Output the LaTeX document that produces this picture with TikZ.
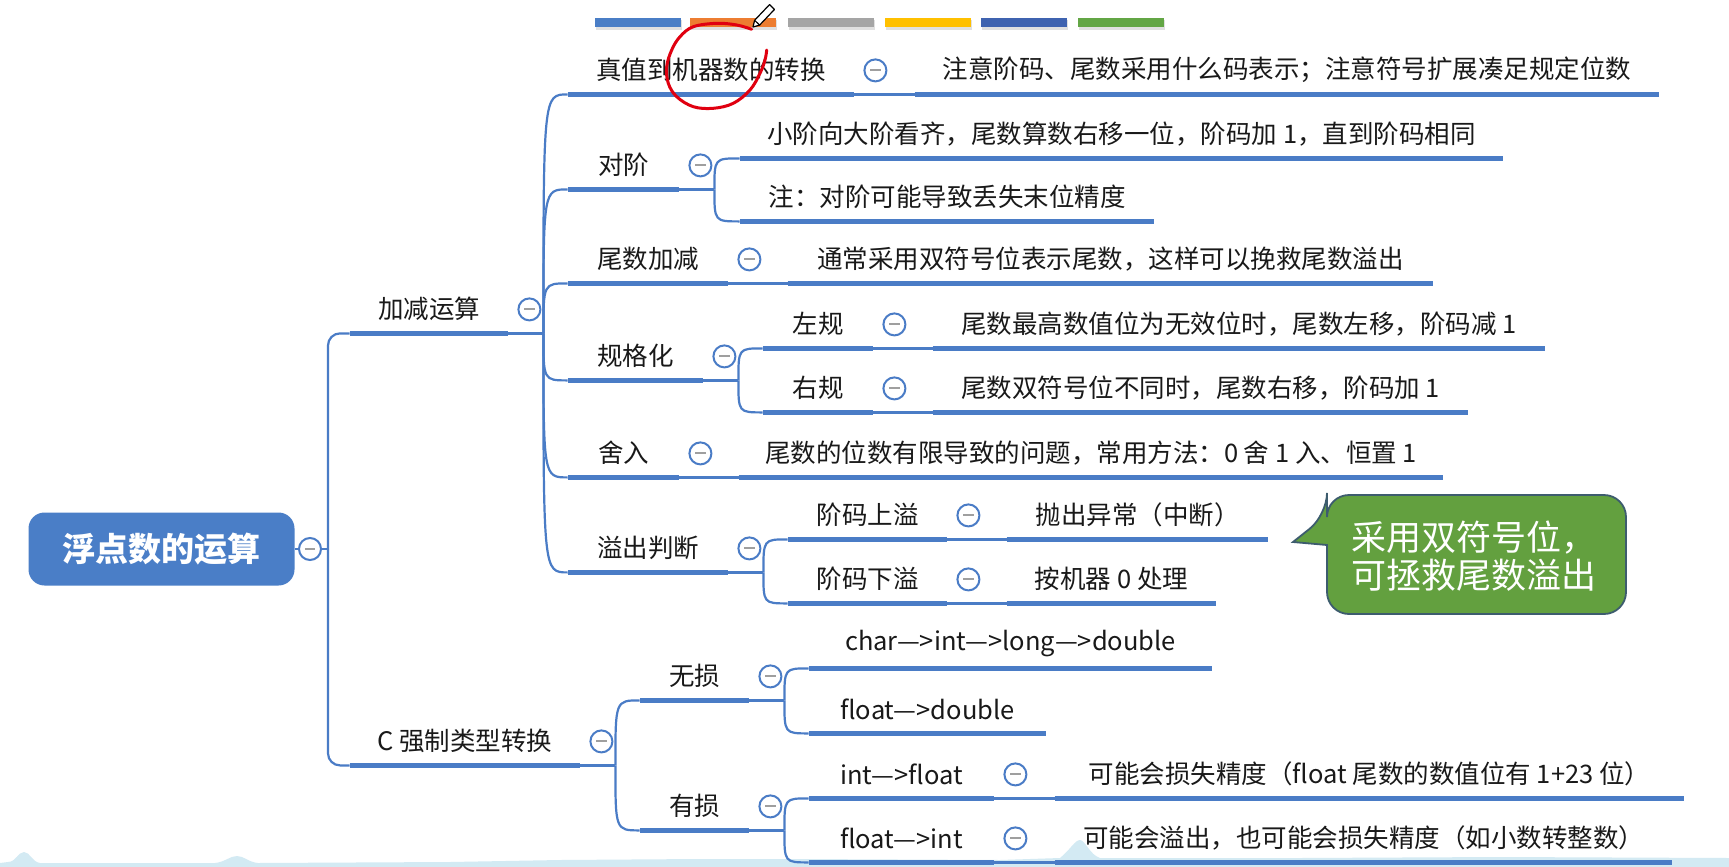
\documentclass[tikz,border=0pt]{standalone}
\usepackage{fontspec}
\setmainfont{Noto Sans CJK SC}
\usetikzlibrary{calc}
\definecolor{lineblue}{HTML}{4A7CC6}
\definecolor{rootblue}{HTML}{4A7EC7}
\definecolor{barblue}{HTML}{4A7EC6}
\definecolor{barorange}{HTML}{ED7D31}
\definecolor{bargray}{HTML}{A5A5A5}
\definecolor{baryellow}{HTML}{FFC000}
\definecolor{bardark}{HTML}{3F63B0}
\definecolor{bargreen}{HTML}{63A645}
\definecolor{notegreen}{HTML}{63A03F}
\definecolor{noteborder}{HTML}{3D5C6E}
\definecolor{penred}{HTML}{E00010}
\definecolor{wave}{HTML}{D3EAF3}
\newcommand\topic[5]{%
  \pgfmathsetmacro\tw{(#3-#2)*0.5}%
  \node[topic, minimum width=\tw pt] (#1) at ({(#2+#3)/2},{#4-24}) {#5};%
  \draw[uline] (#1.south west) -- (#1.south east);}
\newcommand\collapse[1]{\node[col] (#1-c) at ($(#1.south east)+(21,-24)$) {};}
\newcommand\single[2]{\draw[link] (#1.south east) -- (#2.south west);}
\newcommand\fork[1]{\draw[link] (#1.south east) -- ++(35,0) coordinate (#1-j);}
\newcommand\branch[2]{\draw[link] (#1-j) .. controls (#1-j |- #2.south west) .. (#2.south west);}
\begin{document}
\begin{tikzpicture}[x=0.5pt,y=-0.5pt,
  topic/.style={inner sep=0pt, minimum height=24pt, font=\fontsize{12.75pt}{15pt}\selectfont, text=black!90},
  uline/.style={draw=lineblue, line width=2.6pt},
  link/.style={draw=lineblue, line width=1.1pt},
  col/.style={circle, draw=lineblue, line width=1pt, fill=white, minimum size=11pt, inner sep=0pt,
    path picture={\draw[gray!75, line width=1pt] ([xshift=-2.6pt]path picture bounding box.center) -- ([xshift=2.6pt]path picture bounding box.center);}},
  rootbox/.style={fill=rootblue, rounded corners=8pt, minimum width=133pt, minimum height=36.5pt, inner sep=0pt,
    text=white, font=\fontsize{16.5pt}{20pt}\selectfont\bfseries},
  bar/.style={draw=none},
]
\useasboundingbox (0,0) rectangle (1729,867);
\fill[white] (0,0) rectangle (1729,867);
% bottom watercolor band
\fill[wave] (0,867) -- (0,863) -- (8,862) .. controls (16,862) and (18,852) .. (24,852) .. controls (30,852) and (32,862) .. (40,863) -- (215,863) .. controls (225,862) and (230,856) .. (237,856) .. controls (244,856) and (248,862) .. (258,863) -- (450,862) -- (560,860) -- (700,859) -- (800,859) -- (1000,860) -- (1060,858) .. controls (1070,850) and (1075,840) .. (1080,840) .. controls (1085,840) and (1090,855) .. (1100,858) -- (1300,858) -- (1500,857) -- (1729,858) -- (1729,867) -- cycle;
% top colour bars
\foreach \a/\b/\c in {595/681/barblue,690/776/barorange,788/874/bargray,885/971/baryellow,981/1067/bardark,1078/1164/bargreen}{
  \fill[black!12] (\a+1,20) rectangle (\b+1,30);
  \fill[\c] (\a,18) rectangle (\b,27);
}
% root
\node[rootbox] (root) at (161.5,549) {浮点数的运算};
\coordinate (rj) at (328,549);
% level 1
\topic{A}{350}{508}{333}{加减运算}
\topic{B}{350}{580}{765}{C 强制类型转换}
% children of A
\topic{A1}{568}{854}{94}{真值到机器数的转换}
\topic{A1a}{915}{1659}{94}{注意阶码、尾数采用什么码表示；注意符号扩展凑足规定位数}
\topic{A2}{568}{679}{189}{对阶}
\topic{A2a}{740}{1503}{158}{小阶向大阶看齐，尾数算数右移一位，阶码加 1，直到阶码相同}
\topic{A2b}{740}{1154}{221}{注：对阶可能导致丢失末位精度}
\topic{A3}{568}{728}{283}{尾数加减}
\topic{A3a}{788}{1433}{283}{通常采用双符号位表示尾数，这样可以挽救尾数溢出}
\topic{A4}{568}{703}{380}{规格化}
\topic{A4a}{763}{873}{348}{左规}
\topic{A4aa}{933}{1545}{348}{尾数最高数值位为无效位时，尾数左移，阶码减 1}
\topic{A4b}{763}{873}{412}{右规}
\topic{A4ba}{933}{1468}{412}{尾数双符号位不同时，尾数右移，阶码加 1}
\topic{A5}{568}{679}{477}{舍入}
\topic{A5a}{739}{1443}{477}{尾数的位数有限导致的问题，常用方法：0 舍 1 入、恒置 1}
\topic{A6}{568}{728}{572}{溢出判断}
\topic{A6a}{788}{947}{539}{阶码上溢}
\topic{A6aa}{1007}{1268}{539}{抛出异常（中断）}
\topic{A6b}{788}{947}{603}{阶码下溢}
\topic{A6ba}{1007}{1216}{603}{按机器 0 处理}
% children of B
\topic{B1}{640}{749}{700}{无损}
\topic{B1a}{809}{1212}{668}{char—>int—>long—>double}
\topic{B1b}{809}{1046}{733}{float—>double}
\topic{B2}{640}{749}{830}{有损}
\topic{B2a}{809}{994}{798}{int—>float}
\topic{B2aa}{1055}{1684}{798}{可能会损失精度（float 尾数的数值位有 1+23 位）}
\topic{B2b}{809}{994}{862}{float—>int}
\topic{B2ba}{1055}{1672}{862}{可能会溢出，也可能会损失精度（如小数转整数）}
% connectors
\draw[link] (root.east) -- (rj);
\draw[link, rounded corners=6pt] (rj) -- (rj |- A.south west) -- (A.south west);
\draw[link, rounded corners=6pt] (rj) -- (rj |- B.south west) -- (B.south west);
\fork{A}
\foreach \c in {A1,A2,A3,A4,A5,A6}{\branch{A}{\c}}
\single{A1}{A1a}
\fork{A2}\branch{A2}{A2a}\branch{A2}{A2b}
\single{A3}{A3a}
\fork{A4}\branch{A4}{A4a}\branch{A4}{A4b}
\single{A4a}{A4aa}
\single{A4b}{A4ba}
\single{A5}{A5a}
\fork{A6}\branch{A6}{A6a}\branch{A6}{A6b}
\single{A6a}{A6aa}
\single{A6b}{A6ba}
\fork{B}\branch{B}{B1}\branch{B}{B2}
\fork{B1}\branch{B1}{B1a}\branch{B1}{B1b}
\fork{B2}\branch{B2}{B2a}\branch{B2}{B2b}
\single{B2a}{B2aa}
\single{B2b}{B2ba}
% collapse markers
\node[col] (root-c) at (310,549) {};
\foreach \n in {A,B,A1,A2,A3,A4,A4a,A4b,A5,A6,A6a,A6b,B1,B2,B2a,B2b}{\collapse{\n}}
% callout
\draw[fill=notegreen, draw=noteborder, line width=0.9pt] (1293,542) -- (1327,545) [rounded corners=11pt] -- (1327,614) -- (1626,614) -- (1626,495) -- (1327,495) -- (1327,515) [sharp corners] -- cycle;
\node[anchor=west, align=left, inner sep=0pt, text=white, font=\fontsize{17.5pt}{19pt}\selectfont] (note) at (1351,556) {采用双符号位，\\可拯救尾数溢出};
% red hand-drawn circle
\draw[penred, line width=1.5pt, line cap=round] plot[smooth, tension=0.6] coordinates {(751.7,29.3) (736.7,25) (716.7,23.3) (693.3,26.7) (680,36.7) (671.7,50) (666.7,66.7) (668.3,83.3) (676.7,96.7) (693.3,106.7) (713.3,108.3) (733.3,103.3) (750,90) (760,73.3) (765,60) (766.7,50)};
% pen cursor
\draw[fill=white, line width=0.6pt, line join=round] (753,27) -- (759.6,25.1) -- (774.5,9.4) -- (769.5,4.6) -- (754.6,20.3) -- cycle;
\draw[line width=0.6pt] (759.6,25.1) -- (754.6,20.3);
\end{tikzpicture}
\end{document}
